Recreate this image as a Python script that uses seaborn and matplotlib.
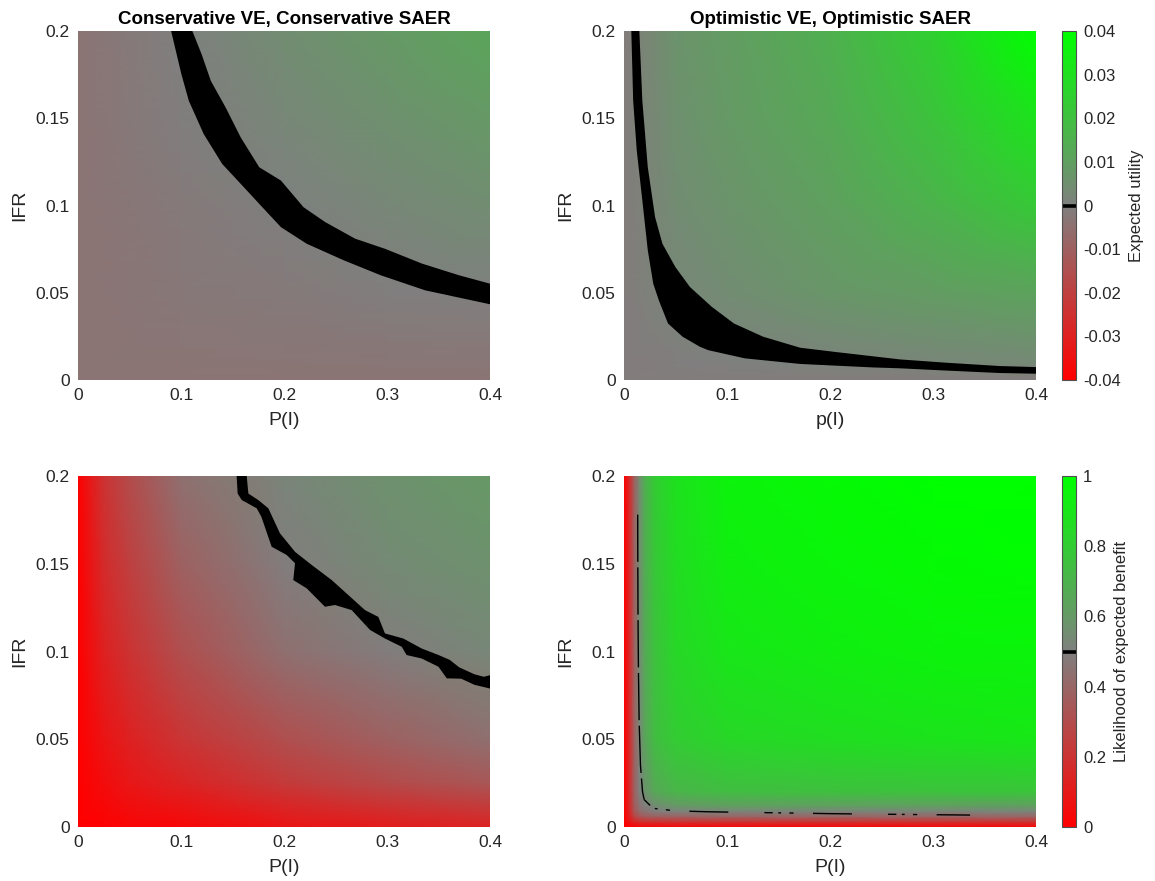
import numpy as np
import matplotlib
matplotlib.use("Agg")
import matplotlib.pyplot as plt
from matplotlib.colors import LinearSegmentedColormap, Normalize
import seaborn as sns

# ---------------- values ----------------
# shared axes
p_ticks = [0, 0.1, 0.2, 0.3, 0.4]
p_tick_labels = ["0", "0.1", "0.2", "0.3", "0.4"]
ifr_ticks = [0, 0.05, 0.1, 0.15, 0.2]
ifr_tick_labels = ["0", "0.05", "0.1", "0.15", "0.2"]

eu_ticks = [-0.04, -0.03, -0.02, -0.01, 0, 0.01, 0.02, 0.03, 0.04]
eu_tick_labels = ["-0.04", "-0.03", "-0.02", "-0.01", "0", "0.01", "0.02", "0.03", "0.04"]
lik_ticks = [0, 0.2, 0.4, 0.6, 0.8, 1]
lik_tick_labels = ["0", "0.2", "0.4", "0.6", "0.8", "1"]

# top-left: expected utility, conservative VE / SAER (rows = IFR, cols = P(I))
tl_p = [0, 0.1, 0.2, 0.3, 0.4]
tl_ifr = [0, 0.05, 0.1, 0.15, 0.2]
tl_eu = [
    [-0.0035, -0.0035, -0.0035, -0.0035, -0.0035],
    [-0.0035, -0.0025, -0.0016, -0.0006, 0.0003],
    [-0.0035, -0.0016, 0.0003, 0.0022, 0.0041],
    [-0.0035, -0.0006, 0.0022, 0.0051, 0.0079],
    [-0.0035, 0.0003, 0.0041, 0.0079, 0.0117],
]
# zero band (lower / upper edges)
tl_lo_p = [0.0904, 0.1004, 0.1076, 0.122, 0.14, 0.158, 0.179, 0.197, 0.222, 0.258, 0.294, 0.337, 0.4]
tl_lo_ifr = [0.2, 0.1752, 0.16, 0.141, 0.1238, 0.1124, 0.099, 0.0876, 0.0781, 0.0686, 0.06, 0.0514, 0.0434]
tl_hi_p = [0.111, 0.120, 0.129, 0.1435, 0.158, 0.176, 0.197, 0.219, 0.240, 0.269, 0.298, 0.334, 0.370, 0.4]
tl_hi_ifr = [0.2, 0.1867, 0.1714, 0.156, 0.139, 0.1219, 0.1143, 0.099, 0.0905, 0.081, 0.0752, 0.0667, 0.060, 0.0552]

# top-right: expected utility, optimistic VE / SAER
tr_p = [0, 0.05, 0.1, 0.2, 0.3, 0.4]
tr_ifr = [0, 0.01, 0.05, 0.1, 0.15, 0.2]
tr_eu = [
    [-0.0012, -0.0012, -0.0012, -0.0012, -0.0012, -0.0012],
    [-0.0012, -0.0005, 0.0, 0.001, 0.002, 0.003],
    [-0.0012, 0.002, 0.004, 0.007, 0.009, 0.011],
    [-0.0012, 0.004, 0.006, 0.010, 0.016, 0.023],
    [-0.0012, 0.005, 0.008, 0.013, 0.021, 0.031],
    [-0.0012, 0.006, 0.009, 0.015, 0.025, 0.040],
]
tr_lo_p = [0.0071, 0.0089, 0.0124, 0.0178, 0.0231, 0.0284, 0.0338, 0.0427, 0.0569, 0.0738,
           0.0818, 0.1173, 0.171, 0.2418, 0.268, 0.3129, 0.365, 0.4]
tr_lo_ifr = [0.2, 0.16, 0.1314, 0.1029, 0.0743, 0.0552, 0.0457, 0.0324, 0.0248, 0.019,
             0.0171, 0.0124, 0.0092, 0.0072, 0.0067, 0.0054, 0.0040, 0.0036]
tr_hi_p = [0.0149, 0.0178, 0.0231, 0.0302, 0.0373, 0.0498, 0.064, 0.0853, 0.1067, 0.1351,
           0.171, 0.2062, 0.268, 0.3129, 0.365, 0.4]
tr_hi_ifr = [0.2, 0.16, 0.1219, 0.0933, 0.0781, 0.0648, 0.0533, 0.0419, 0.0324, 0.0248,
             0.0185, 0.016, 0.0118, 0.0099, 0.0080, 0.0074]

# bottom-left: likelihood of expected benefit, conservative
bl_p = [0, 0.025, 0.05, 0.1, 0.2, 0.3, 0.4]
bl_ifr = [0, 0.025, 0.05, 0.1, 0.15, 0.2]
bl_lik = [
    [0, 0.01, 0.02, 0.03, 0.08, 0.11, 0.14],
    [0, 0.05, 0.09, 0.14, 0.23, 0.29, 0.34],
    [0, 0.08, 0.13, 0.21, 0.31, 0.38, 0.44],
    [0, 0.13, 0.20, 0.31, 0.44, 0.49, 0.53],
    [0, 0.17, 0.25, 0.38, 0.49, 0.54, 0.57],
    [0, 0.20, 0.30, 0.44, 0.52, 0.57, 0.60],
]
bl_lo_p = [0.154, 0.155, 0.159, 0.1735, 0.178, 0.188, 0.2026, 0.2107, 0.209, 0.222, 0.2398, 0.2495,
           0.2657, 0.2835, 0.298, 0.3143, 0.319, 0.3337, 0.350, 0.358, 0.372, 0.385, 0.4]
bl_lo_ifr = [0.2, 0.190, 0.1863, 0.1816, 0.1768, 0.1597, 0.155, 0.1503, 0.1407, 0.136, 0.1255, 0.1265,
             0.1236, 0.1123, 0.1074, 0.1027, 0.098, 0.096, 0.0913, 0.0847, 0.0845, 0.081, 0.0789]
bl_hi_p = [0.1638, 0.1654, 0.175, 0.1848, 0.196, 0.2107, 0.2269, 0.2463, 0.2624, 0.2786, 0.2916,
           0.298, 0.3158, 0.3337, 0.350, 0.361, 0.37, 0.385, 0.394, 0.4]
bl_hi_ifr = [0.2, 0.190, 0.1863, 0.1816, 0.1674, 0.1568, 0.1493, 0.1407, 0.1322, 0.1236, 0.1197,
             0.1103, 0.1074, 0.1017, 0.098, 0.0952, 0.091, 0.087, 0.0856, 0.0865]

# bottom-right: likelihood of expected benefit, optimistic
br_p = [0, 0.005, 0.01, 0.015, 0.02, 0.03, 0.05, 0.1, 0.2, 0.3, 0.4]
br_ifr = [0, 0.003, 0.006, 0.009, 0.012, 0.02, 0.05, 0.1, 0.15, 0.2]
br_lik = [
    [0, 0.00, 0.01, 0.02, 0.02, 0.02, 0.03, 0.03, 0.03, 0.03, 0.03],
    [0, 0.08, 0.14, 0.17, 0.18, 0.19, 0.20, 0.20, 0.20, 0.20, 0.20],
    [0, 0.12, 0.27, 0.33, 0.36, 0.38, 0.39, 0.40, 0.40, 0.40, 0.40],
    [0, 0.14, 0.34, 0.42, 0.45, 0.49, 0.51, 0.52, 0.52, 0.52, 0.52],
    [0, 0.15, 0.36, 0.45, 0.49, 0.55, 0.59, 0.62, 0.62, 0.62, 0.62],
    [0, 0.15, 0.38, 0.50, 0.57, 0.66, 0.71, 0.74, 0.75, 0.76, 0.77],
    [0, 0.15, 0.38, 0.53, 0.64, 0.74, 0.80, 0.84, 0.87, 0.89, 0.91],
    [0, 0.15, 0.38, 0.54, 0.66, 0.76, 0.84, 0.90, 0.93, 0.95, 0.96],
    [0, 0.15, 0.38, 0.55, 0.67, 0.78, 0.86, 0.93, 0.96, 0.98, 0.99],
    [0, 0.15, 0.38, 0.55, 0.68, 0.80, 0.88, 0.95, 0.98, 1.00, 1.00],
]
# 0.5 contour (drawn broken in the original)
br_vert_p = [0.0133, 0.0134, 0.0136, 0.014, 0.0147, 0.016, 0.018, 0.0196]
br_vert_ifr = [0.178, 0.15, 0.12, 0.09, 0.06, 0.035, 0.02, 0.0156]
br_horiz_p = [0.0196, 0.025, 0.0303, 0.05, 0.08, 0.12, 0.16, 0.2, 0.25, 0.3, 0.336]
br_horiz_ifr = [0.0156, 0.0125, 0.0105, 0.0092, 0.0087, 0.0083, 0.0080, 0.0076, 0.0073, 0.0070, 0.0068]

# ---------------- styling ----------------
sns.set_theme(style="white")
plt.rcParams["font.family"] = ["Liberation Sans", "DejaVu Sans"]
TXT = "#262626"

rg_cmap = LinearSegmentedColormap.from_list("red_gray_green", [(1, 0, 0), (0.5, 0.5, 0.5), (0, 1, 0)])
eu_norm = Normalize(-0.04, 0.04)
lik_norm = Normalize(0, 1)

fig = plt.figure(figsize=(11.55, 8.81), dpi=100)

W, H = 1155, 881
def px_axes(x0, y0, x1, y1):
    return fig.add_axes([x0 / W, 1 - y1 / H, (x1 - x0) / W, (y1 - y0) / H])

ax_tl = px_axes(78, 31, 490, 380)
ax_tr = px_axes(624, 31, 1036, 380)
ax_bl = px_axes(78, 476, 490, 827)
ax_br = px_axes(624, 476, 1036, 827)
cax_top = px_axes(1062, 31, 1076, 380)
cax_bot = px_axes(1062, 476, 1076, 827)


def heat_panel(ax, p, ifr, z, norm, xlabel, title=None):
    mesh = ax.pcolormesh(p, ifr, np.array(z), shading="gouraud", cmap=rg_cmap, norm=norm)
    ax.set_xlim(0, 0.4)
    ax.set_ylim(0, 0.2)
    ax.set_xticks(p_ticks, p_tick_labels)
    ax.set_yticks(ifr_ticks, ifr_tick_labels)
    ax.tick_params(length=0, labelsize=12.5, labelcolor=TXT, pad=6)
    ax.set_xlabel(xlabel, fontsize=14, color=TXT, labelpad=6)
    ax.set_ylabel("IFR", fontsize=14, color=TXT, labelpad=5)
    for s in ax.spines.values():
        s.set_visible(False)
    if title:
        ax.set_title(title, fontsize=13.5, fontweight="bold", color="black", pad=5)
    return mesh


def band(ax, lo_p, lo_ifr, hi_p, hi_ifr):
    xs = np.r_[lo_p, hi_p[::-1]]
    ys = np.r_[lo_ifr, hi_ifr[::-1]]
    ax.fill(xs, ys, color="black", lw=0, zorder=3)


def colorbar(mesh, cax, ticks, labels, mid, label):
    cb = fig.colorbar(mesh, cax=cax)
    cb.set_ticks(ticks, labels=labels)
    cb.outline.set_edgecolor("#505050")
    cb.outline.set_linewidth(0.8)
    cax.tick_params(direction="in", length=4, width=0.6, color="#404040",
                    labelsize=12, labelcolor=TXT, pad=5)
    cax.axhline(mid, color="black", lw=2.6)
    cb.set_label(label, fontsize=12, color=TXT, labelpad=6)


m_tl = heat_panel(ax_tl, tl_p, tl_ifr, tl_eu, eu_norm, "P(I)", "Conservative VE, Conservative SAER")
band(ax_tl, tl_lo_p, tl_lo_ifr, tl_hi_p, tl_hi_ifr)

m_tr = heat_panel(ax_tr, tr_p, tr_ifr, tr_eu, eu_norm, "p(I)", "Optimistic VE, Optimistic SAER")
band(ax_tr, tr_lo_p, tr_lo_ifr, tr_hi_p, tr_hi_ifr)
colorbar(m_tr, cax_top, eu_ticks, eu_tick_labels, 0, "Expected utility")

m_bl = heat_panel(ax_bl, bl_p, bl_ifr, bl_lik, lik_norm, "P(I)")
band(ax_bl, bl_lo_p, bl_lo_ifr, bl_hi_p, bl_hi_ifr)

m_br = heat_panel(ax_br, br_p, br_ifr, br_lik, lik_norm, "P(I)")
sns.lineplot(x=br_vert_p, y=br_vert_ifr, ax=ax_br, color="black", lw=1.0, sort=False,
             estimator=None, linestyle=(0, (34, 4)), zorder=3)
sns.lineplot(x=br_horiz_p, y=br_horiz_ifr, ax=ax_br, color="black", lw=1.0, sort=False,
             estimator=None, linestyle=(0, (6, 4, 2, 6, 3, 14, 28, 26)), zorder=3)
colorbar(m_br, cax_bot, lik_ticks, lik_tick_labels, 0.5, "Likelihood of expected benefit")

fig.savefig("out.png", dpi=100)
